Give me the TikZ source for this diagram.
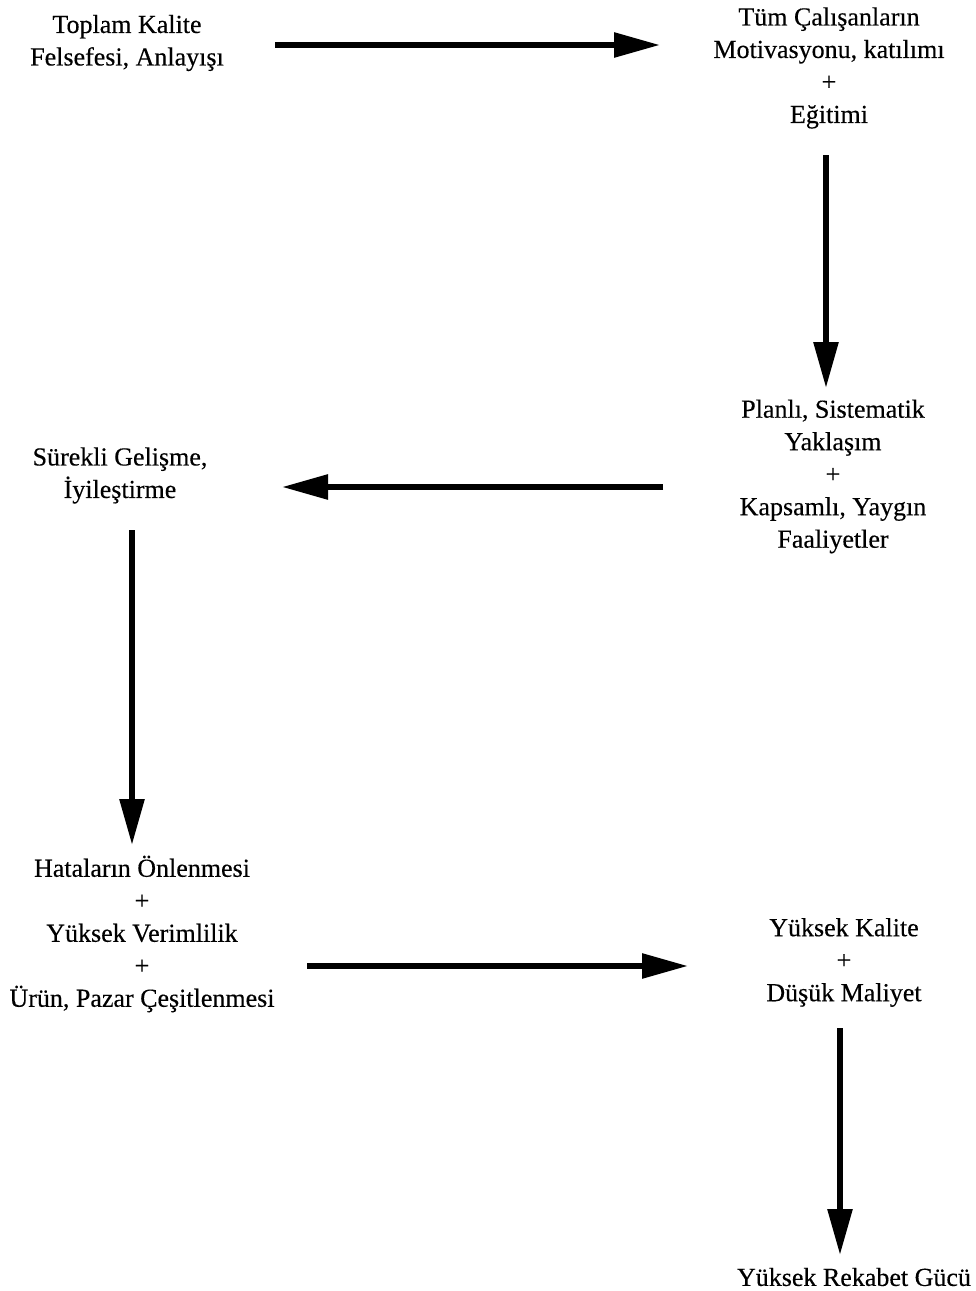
\documentclass[tikz,border=0pt]{standalone}
\usepackage{fontspec}
\setmainfont{Liberation Serif}
% slightly heavier strokes for the label text
\newfontfamily\labelfont[FakeBold=0.3]{Liberation Serif}
\usetikzlibrary{arrows.meta}
\begin{document}
\begin{tikzpicture}[x=1pt,y=1pt,
  label/.style={align=center,inner sep=0pt,
    font=\labelfont\fontsize{26}{32.5}\selectfont},
  flow/.style={line width=5.8pt,-{Triangle[length=46pt,width=24pt]}}]
\useasboundingbox (0,0) rectangle (976,-1291);
% text blocks
\node[label] (A) at (127,-43) {Toplam Kalite\\Felsefesi, Anlayışı};
\node[label] (B) at (829,-68) {Tüm Çalışanların\\Motivasyonu, katılımı\\+\\Eğitimi};
\node[label] (C) at (833,-476.5) {Planlı, Sistematik\\Yaklaşım\\+\\Kapsamlı, Yaygın\\Faaliyetler};
\node[label] (D) at (120,-475.5) {Sürekli Gelişme,\\İyileştirme};
\node[label] (E) at (142,-934) {Hataların Önlenmesi\\+\\Yüksek Verimlilik\\+\\Ürün, Pazar Çeşitlenmesi};
\node[label] (F) at (844,-962.5) {Yüksek Kalite\\+\\Düşük Maliyet};
\node[label] (G) at (854,-1277) {Yüksek Rekabet Gücü};
% flow arrows
\draw[flow] ([shift={(148,-2)}]A.center) -- ([shift={(-169,23)}]B.center);
\draw[flow] ([shift={(-3,-87)}]B.center) -- ([shift={(-7,88.5)}]C.center);
\draw[flow] ([shift={(-170,-10.5)}]C.center) -- ([shift={(162,-11.5)}]D.center);
\draw[flow] ([shift={(12,-54.5)}]D.center) -- ([shift={(-10,89)}]E.center);
\draw[flow] ([shift={(165,-32)}]E.center) -- ([shift={(-156,-3.5)}]F.center);
\draw[flow] ([shift={(-4,-65.5)}]F.center) -- ([shift={(-14,22)}]G.center);
\end{tikzpicture}
\end{document}
